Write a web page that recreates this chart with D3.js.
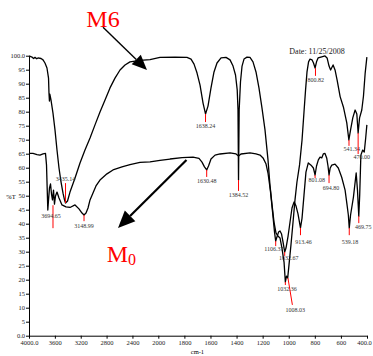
<!DOCTYPE html>
<html>
<head>
<meta charset="utf-8">
<script src="https://cdn.jsdelivr.net/npm/d3@7"></script>
<style>
    body { margin: 0; background: #fff; }
    svg { display: block; }
    text { font-family: "Liberation Serif", "Times New Roman", serif; }
</style>
</head>
<body>
<div id="chart"></div>
<script>
// spectrum M6 (upper curve): [wavenumber cm-1, %T]
const m6Spectrum = [
    [4000, 99.9], [3954, 99.5], [3930, 99.0], [3907, 99.4], [3880, 98.9], [3861, 99.2], [3814, 99.0],
    [3783, 98.5], [3753, 97.4], [3722, 95.6], [3698, 92.0], [3691, 86.7], [3684, 83.8], [3678, 86.3],
    [3660, 84.2], [3629, 79.5], [3598, 73.5], [3567, 66.3], [3536, 59.9], [3505, 54.9], [3474, 50.9],
    [3451, 48.5], [3435, 47.4], [3404, 48.1], [3366, 51.3], [3288, 56.3], [3211, 61.7], [3134, 66.3],
    [3056, 70.6], [2979, 75.3], [2902, 79.9], [2824, 84.2], [2747, 88.5], [2670, 92.0], [2592, 94.9],
    [2515, 96.7], [2438, 97.8], [2283, 98.3], [2128, 98.6], [1987, 99.4], [1872, 99.5], [1780, 99.4],
    [1749, 98.8], [1726, 97.0], [1703, 93.8], [1680, 89.5], [1657, 83.1], [1638, 79.2], [1619, 82.0],
    [1596, 88.5], [1573, 94.2], [1550, 97.4], [1519, 99.2], [1481, 99.4], [1450, 98.5], [1427, 96.3],
    [1408, 93.1], [1395, 87.8], [1389, 80.6], [1385, 55.6], [1380, 80.6], [1370, 90.6], [1358, 96.3],
    [1343, 98.8], [1320, 99.5], [1297, 99.4], [1274, 97.8], [1251, 94.2], [1228, 88.4], [1205, 81.3],
    [1182, 73.5], [1159, 62.8], [1144, 53.8], [1128, 46.7], [1113, 40.6], [1098, 36.7], [1083, 35.6],
    [1067, 34.9], [1052, 31.3], [1036, 26.3], [1026, 19.2], [1017, 21.3], [1008, 20.6], [998, 25.3],
    [983, 32.4], [967, 40.6], [952, 48.5], [937, 54.9], [917, 61.0], [898, 69.9], [883, 79.9],
    [871, 87.8], [860, 94.2], [848, 97.8], [837, 98.8], [821, 98.5], [810, 97.4], [798, 95.6],
    [787, 97.8], [775, 99.2], [747, 99.6], [722, 99.9], [706, 99.2], [691, 96.3], [679, 94.9],
    [660, 96.7], [645, 94.9], [629, 91.3], [606, 85.4], [581, 81.7], [555, 76.0], [539, 69.9],
    [526, 73.5], [509, 77.8], [491, 80.6], [478, 79.2], [468, 72.4], [457, 77.8], [440, 80.6],
    [427, 85.6], [414, 93.8], [401, 99.5]
];

// spectrum M0 (lower curve)
const m0Spectrum = [
    [4000, 65.1], [3938, 65.1], [3876, 64.7], [3830, 64.5], [3783, 64.9], [3745, 65.1], [3729, 60.9],
    [3718, 52.0], [3709, 44.9], [3698, 48.5], [3683, 52.8], [3667, 54.2], [3652, 50.6], [3637, 48.5],
    [3621, 52.0], [3606, 47.0], [3590, 49.9], [3567, 51.3], [3536, 49.2], [3490, 46.7], [3428, 46.0],
    [3366, 45.8], [3288, 46.7], [3227, 45.3], [3180, 43.8], [3149, 43.1], [3118, 43.8], [3087, 45.6],
    [3056, 48.5], [3010, 51.0], [2964, 53.5], [2902, 55.6], [2794, 57.8], [2701, 59.2], [2562, 60.3],
    [2438, 61.1], [2283, 61.9], [2128, 62.1], [1987, 62.6], [1910, 63.1], [1818, 63.6], [1734, 63.8],
    [1688, 63.3], [1665, 62.0], [1646, 60.3], [1629, 59.2], [1615, 60.6], [1596, 63.1], [1565, 64.5],
    [1527, 64.9], [1450, 65.3], [1404, 64.9], [1385, 64.2], [1366, 64.9], [1297, 65.3], [1251, 64.9],
    [1220, 64.5], [1197, 63.5], [1174, 61.3], [1159, 58.1], [1141, 52.0], [1124, 44.2], [1109, 37.0],
    [1100, 33.8], [1093, 34.9], [1078, 37.0], [1067, 37.4], [1055, 36.3], [1044, 33.5], [1031, 29.9],
    [1021, 31.3], [1005, 35.6], [990, 40.6], [975, 45.6], [959, 47.8], [944, 46.3], [929, 43.5],
    [910, 38.5], [898, 42.0], [883, 50.2], [868, 58.4], [850, 61.7], [829, 60.9], [811, 59.9],
    [798, 57.4], [787, 60.6], [773, 62.8], [760, 63.8], [747, 63.5], [735, 64.9], [722, 65.1],
    [709, 63.5], [699, 60.6], [691, 57.4], [682, 59.9], [670, 60.9], [645, 61.3], [620, 59.9],
    [594, 56.6], [568, 52.0], [553, 46.7], [543, 43.1], [536, 38.5], [526, 43.1], [504, 49.5],
    [483, 58.1], [473, 52.0], [463, 42.7], [456, 50.2], [447, 64.5], [433, 66.3], [421, 65.6],
    [410, 70.6], [401, 75.3]
];

// peak annotations: red tick from (tickX1, tickFrom) to (tickX2, tickTo), label at (labelX, labelT)
const peakLabels = ['3694.65', '3435.14', '3148.99', '1638.24', '1630.48', '1384.52', '1106.37', '1032.67',
    '1032.36', '1008.03', '913.46', '800.82', '801.08', '694.80', '541.34', '470.00', '539.18', '469.75'];
const tickX1 = [3629, 3435, 3149, 1638, 1629, 1385, 1100, 1031, 1026, 1006, 910, 795, 798, 691, 538, 468, 536, 463];
const tickX2 = [3629, 3435, 3149, 1638, 1629, 1385, 1100, 1031, 1026, 972, 910, 795, 798, 691, 538, 468, 536, 463];
const tickFrom = [46.6, 54.5, 43.1, 79.2, 59.2, 55.6, 33.8, 29.9, 19.2, 20.6, 38.5, 95.6, 57.4, 57.4, 69.9, 72.4, 38.5, 42.7];
const tickTo = [38.4, 47.4, 40.9, 76.3, 56.7, 51.7, 32.0, 28.5, 18.1, 11.0, 35.9, 92.8, 56.3, 54.5, 67.8, 64.9, 35.9, 40.2];
const labelX = [3660, 3435, 3149, 1638, 1629, 1385, 1114, 1000, 1013, 950, 886, 793, 785, 676, 517, 440, 530, 429];
const labelT = [42.0, 55.2, 38.5, 74.2, 54.5, 49.5, 30.2, 27.0, 16.0, 8.5, 32.7, 90.6, 54.9, 52.0, 66.0, 63.1, 32.7, 38.1];

const xTickValues = [4000, 3600, 3200, 2800, 2400, 2000, 1800, 1600, 1400, 1200, 1000, 800, 600, 400];
const yTickValues = d3.range(0, 101, 5);

const width = 373;
const height = 356;

// x axis has a scale change at 2000 cm-1
const xs = d3.scaleLinear()
    .domain([4000, 2000, 400])
    .range([29, 158.3, 367]);
const ys = d3.scaleLinear()
    .domain([0, 100])
    .range([335.7, 55.7]);

const svg = d3.select('#chart')
    .append('svg')
    .attr('width', width)
    .attr('height', height);

// axes
const xAxis = d3.axisBottom(xs)
    .tickValues(xTickValues)
    .tickSize(3)
    .tickSizeOuter(0)
    .tickPadding(2)
    .tickFormat(d => (d === 4000 || d === 400) ? d.toFixed(1) : d);

const yAxis = d3.axisLeft(ys)
    .tickValues(yTickValues)
    .tickSize(3)
    .tickSizeOuter(0)
    .tickPadding(1)
    .tickFormat(d => (d === 0 || d === 100) ? d.toFixed(1) : d);

svg.append('g')
    .attr('class', 'x axis')
    .attr('transform', 'translate(0,' + ys(0) + ')')
    .call(xAxis)
    .call(g => g.selectAll('text').style('font-size', '6.5px').style('font-family', '"Liberation Serif", serif').attr('fill', '#222'))
    // keep the last label inside the window
    .call(g => g.selectAll('text').filter(d => d === 400).attr('dx', -3));

svg.append('g')
    .attr('class', 'y axis')
    .attr('transform', 'translate(' + xs(4000) + ',0)')
    .call(yAxis)
    .call(g => g.selectAll('text').style('font-size', '6.5px').style('font-family', '"Liberation Serif", serif').attr('fill', '#222'));

svg.selectAll('.axis path, .axis line').attr('stroke', '#000').attr('stroke-width', 1);

svg.append('text')
    .attr('x', xs(1700))
    .attr('y', 354)
    .attr('text-anchor', 'middle')
    .style('font-size', '6.5px')
    .text('cm-1');

svg.append('text')
    .attr('x', 11)
    .attr('y', ys(48.8))
    .attr('text-anchor', 'middle')
    .style('font-size', '6.5px')
    .text('%T');

svg.append('text')
    .attr('x', xs(783))
    .attr('y', ys(100.6))
    .attr('text-anchor', 'middle')
    .style('font-size', '8px')
    .attr('fill', '#222')
    .text('Date: 11/25/2008');

// spectra
const lineGenerator = d3.line()
    .x(d => xs(d[0]))
    .y(d => ys(d[1]));

[m6Spectrum, m0Spectrum].forEach(s => {
    svg.append('path')
        .datum(s)
        .attr('d', lineGenerator)
        .style('fill', 'none')
        .style('stroke', '#000')
        .style('stroke-width', '1.3px')
        .style('stroke-linejoin', 'round');
});

// peak ticks + labels
peakLabels.forEach((lab, i) => {
    svg.append('line')
        .attr('x1', xs(tickX1[i])).attr('y1', ys(tickFrom[i]))
        .attr('x2', xs(tickX2[i])).attr('y2', ys(tickTo[i]))
        .style('stroke', '#ff0000')
        .style('stroke-width', '1px');
    svg.append('text')
        .attr('x', xs(labelX[i]))
        .attr('y', ys(labelT[i]))
        .attr('text-anchor', 'middle')
        .style('font-size', '6px')
        .attr('fill', '#333')
        .text(lab);
});

// arrows
function arrow(x1, y1, x2, y2, headLen, headW, sw) {
    const ang = Math.atan2(y2 - y1, x2 - x1);
    const bx = x2 - headLen * Math.cos(ang);
    const by = y2 - headLen * Math.sin(ang);
    const nx = -Math.sin(ang) * headW / 2;
    const ny = Math.cos(ang) * headW / 2;
    svg.append('line')
        .attr('x1', x1).attr('y1', y1)
        .attr('x2', bx).attr('y2', by)
        .style('stroke', '#000')
        .style('stroke-width', sw);
    svg.append('path')
        .attr('d', 'M' + x2 + ',' + y2 + 'L' + (bx + nx) + ',' + (by + ny) + 'L' + (bx - nx) + ',' + (by - ny) + 'Z')
        .style('fill', '#000');
}

arrow(xs(2855), ys(110.2), xs(2175), ys(94.9), 15, 13, 1.4);
arrow(xs(1784), ys(62.75), xs(2623), ys(38.5), 17, 15, 2.2);

// series names
svg.append('text')
    .attr('x', xs(2855))
    .attr('y', ys(110.4))
    .attr('text-anchor', 'middle')
    .style('font-size', '24px')
    .attr('fill', '#ff0000')
    .text('M6');

const m0Label = svg.append('text')
    .attr('x', xs(2798))
    .attr('y', ys(26.3))
    .style('font-size', '24px')
    .attr('fill', '#ff0000');
m0Label.append('tspan').text('M');
m0Label.append('tspan').attr('dy', 3).style('font-size', '16px').text('0');
</script>
</body>
</html>
